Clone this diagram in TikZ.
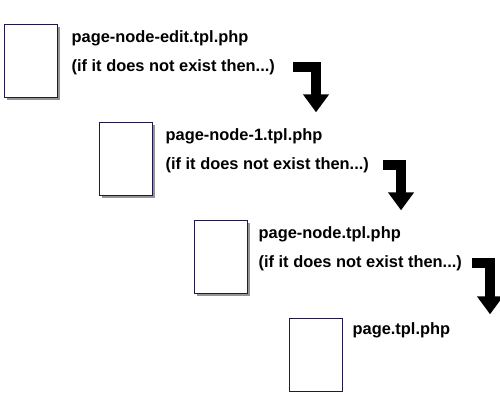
\documentclass[tikz,border=0pt]{standalone}
\usepackage{fontspec}
\setmainfont{Liberation Sans}
\usetikzlibrary{arrows.meta}
\usetikzlibrary{positioning}
\usetikzlibrary{shadows}
\definecolor{frame}{RGB}{32,24,72}
\tikzset{
    tpl/.style = {draw=frame,fill=white,line width=0.9pt,inner sep=0,minimum width=53pt,minimum height=73pt},
    tplshadow/.style = {drop shadow={shadow xshift=3pt,shadow yshift=-3pt,opacity=0.6,fill=black!70}},
    fname/.style = {font=\fontsize{16.4}{20}\selectfont\bfseries,inner sep=0,anchor=base west},
    fall/.style = {line width=10pt,-{Triangle[width=25pt,length=18pt]}}
}

\begin{document}
\begin{tikzpicture}[x=1pt,y=-1pt]
        \newcommand*\hsep{95}
        \newcommand*\vsep{98}
        \useasboundingbox (0,0) rectangle (500,405);
        % Templates
        \node[tpl,tplshadow] (pageA) at (30.5,60.5) {};
        \path (pageA) to +(\hsep,\vsep) node[tpl,tplshadow] (pageB) {};
        \path (pageB) to +(\hsep,\vsep) node[tpl,tplshadow] (pageC) {};
        \path (pageC) to +(\hsep,\vsep) node[tpl] (pageD) {};
        % File names
        \path (pageA.north east) to +(14,19) node[fname] (nameA) {page-node-edit.tpl.php};
        \path (pageB.north east) to +(13,19) node[fname] (nameB) {page-node-1.tpl.php};
        \path (pageC.north east) to +(11,19) node[fname] (nameC) {page-node.tpl.php};
        \path (pageD.north east) to +(10,17) node[fname] (nameD) {page.tpl.php};
        % Conditions
        \path (nameA.base west) to +(0,29) node[fname] (condA) {(if it does not exist then...)};
        \path (nameB.base west) to +(0,29) node[fname] (condB) {(if it does not exist then...)};
        \path (nameC.base west) to +(0,29) node[fname] (condC) {(if it does not exist then...)};
        % Fallback arrows
        \foreach \c/\g/\d/\h in {A/18/41/45,B/14/32/45,C/10/28/51}{
            \path (cond\c.east) ++(\d,\h) coordinate (end\c);
            \draw[fall] ([xshift=\g pt]cond\c.east) -| (end\c);
        }
    \end{tikzpicture}
\end{document}
